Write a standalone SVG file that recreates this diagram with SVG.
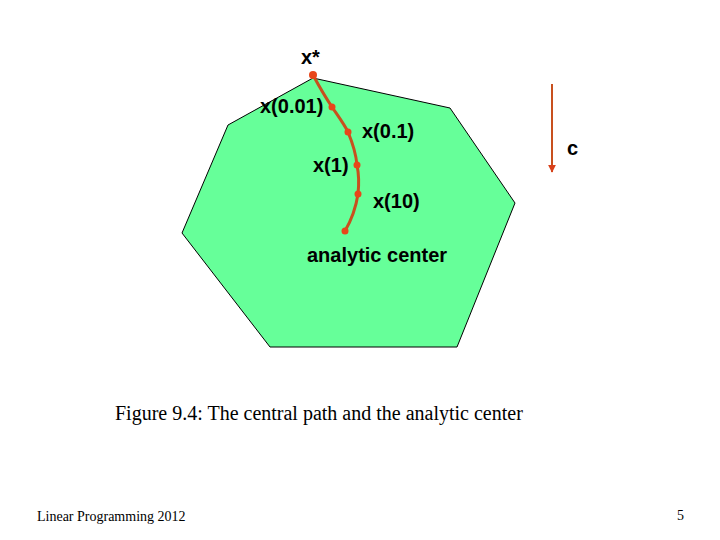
<svg xmlns="http://www.w3.org/2000/svg" width="720" height="540" viewBox="0 0 720 540">
<style>
.lbl{font-family:"Liberation Sans",Arial,sans-serif;font-size:20px;font-weight:bold;fill:#000}
.cap{font-family:"Liberation Serif","Times New Roman",serif;fill:#000}
.dot{fill:#e8461a}
</style>
<defs>
<marker id="ah" viewBox="0 0 10 10" refX="9" refY="5" markerWidth="4" markerHeight="4" orient="auto">
<path d="M0,0 L10,5 L0,10 z" fill="#d9401a"/>
</marker>
</defs>
<rect width="720" height="540" fill="#fff"/>
<g id="polygon">
<polygon points="313,78 450,108 515,203 457,347 270,347 182,233 228,125" fill="#66ff99" stroke="#000" stroke-width="1"/>
</g>
<g id="connectors">
<path d="M313,75 C320,88 326,98 332,107 C338,116 344,124 348,132 C353,144 356,154 357,165 C359,175 359,185 358,194 C356,207 352,219 345,231" fill="none" stroke="#c8501e" stroke-width="3"/>
<line x1="552" y1="84" x2="552" y2="172" stroke="#c8501e" stroke-width="2" marker-end="url(#ah)"/>
</g>
<g id="points">
<circle class="dot" cx="313" cy="75" r="4"/>
<circle class="dot" cx="332" cy="107" r="3.5"/>
<circle class="dot" cx="348" cy="132" r="3.5"/>
<circle class="dot" cx="357" cy="165" r="3.5"/>
<circle class="dot" cx="358" cy="194" r="3.5"/>
<circle class="dot" cx="345" cy="231" r="3.5"/>
</g>
<g id="labels">
<text class="lbl" x="301" y="64">x*</text>
<text class="lbl" x="260" y="113">x(0.01)</text>
<text class="lbl" x="362" y="138">x(0.1)</text>
<text class="lbl" x="313" y="172">x(1)</text>
<text class="lbl" x="373" y="208">x(10)</text>
<text class="lbl" x="307" y="262">analytic center</text>
<text class="lbl" x="567" y="155" font-size="18">c</text>
</g>
<g id="caption">
<text class="cap" x="115" y="420" font-size="20">Figure 9.4: The central path and the analytic center</text>
<text class="cap" x="37" y="521" font-size="14">Linear Programming 2012</text>
<text class="cap" x="677" y="520" font-size="14">5</text>
</g>
</svg>
